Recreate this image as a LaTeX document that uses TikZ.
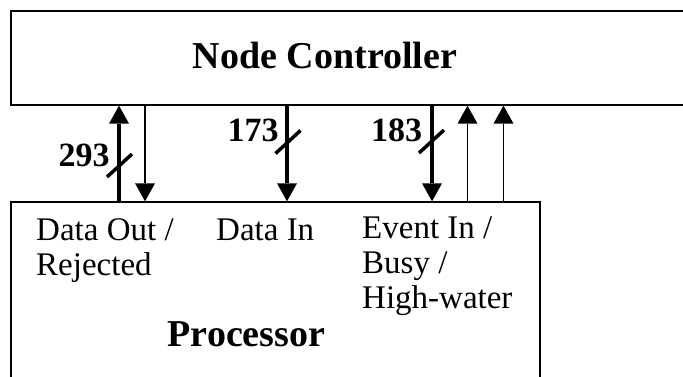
\documentclass[tikz,border=0pt]{standalone}
\usepackage{fontspec}
\setmainfont{Liberation Serif}
\usetikzlibrary{arrows.meta}

\begin{document}
\begin{tikzpicture}[x=1pt, y=-1pt,
  >={Triangle[width=20pt, length=18pt, line width=0pt]},
  unit/.style={draw, line width=1.3pt, inner sep=0pt},
  bus/.style={line width=4.5pt, ->},
  wire/.style={line width=1.5pt, ->},
  busmark/.style={line width=3.5pt},
  title/.style={font=\bfseries\fontsize{38}{40}\selectfont, inner sep=0pt, anchor=base},
  buswidth/.style={font=\bfseries\fontsize{34}{36}\selectfont, inner sep=0pt, anchor=base},
  sig/.style={font=\fontsize{33}{35}\selectfont, inner sep=0pt, align=left, anchor=base west}]
  \useasboundingbox (0,0) rectangle (683,377);

  % Boxes
  \node[unit, minimum width=689pt, minimum height=94pt] (ctrl) at (355.5,58) {};
  \node[unit, minimum width=529pt, minimum height=218pt] (proc) at (275.5,311) {};
  \node[title] (ctrltitle) at (325,69) {Node Controller};
  \node[title] (proctitle) at (246.5,346) {Processor};

  % Signal names (anchored on the last line)
  \node[sig] (doutlbl) at (36,275) {Data Out /\\Rejected};
  \node[sig] (dinlbl) at (216,240) {Data In};
  \node[sig] (evinlbl) at (362,308) {Event In /\\Busy /\\High-water};

  % Positions of the lines
  \coordinate (dout) at (119,0);
  \coordinate (rej) at (145,0);
  \coordinate (din) at (287,0);
  \coordinate (evin) at (432,0);
  \coordinate (busy) at (467.5,0);
  \coordinate (hiw) at (503.5,0);

  % Lines between processor and controller
  \draw[bus] (proc.north -| dout) -- (ctrl.south -| dout);
  \draw[wire] (ctrl.south -| rej) -- (proc.north -| rej);
  \draw[bus] (ctrl.south -| din) -- (proc.north -| din);
  \draw[bus] (ctrl.south -| evin) -- (proc.north -| evin);
  \draw[wire] (proc.north -| busy) -- (ctrl.south -| busy);
  \draw[wire] (proc.north -| hiw) -- (ctrl.south -| hiw);

  % Bus widths
  \coordinate (m1) at (119.5,165.5);
  \coordinate (m2) at (288,142);
  \coordinate (m3) at (431.5,141.5);
  \draw[busmark] ([shift={(-12.5,11.5)}]m1) -- ([shift={(12.5,-11.5)}]m1);
  \draw[busmark] ([shift={(-12.5,11.5)}]m2) -- ([shift={(12.5,-11.5)}]m2);
  \draw[busmark] ([shift={(-12.5,11.5)}]m3) -- ([shift={(12.5,-11.5)}]m3);
  \node[buswidth] (w1) at (84,166.5) {293};
  \node[buswidth] (w2) at (253,141.7) {173};
  \node[buswidth] (w3) at (396.5,141.7) {183};
\end{tikzpicture}
\end{document}
